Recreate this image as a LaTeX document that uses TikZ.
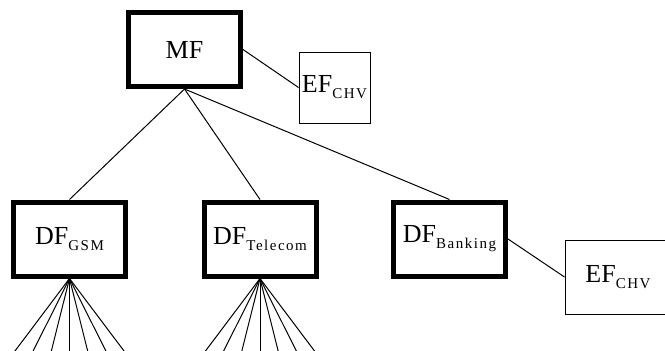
\documentclass[tikz,border=0pt]{standalone}
\usepackage{fontspec}
\setmainfont{Liberation Serif}
\usetikzlibrary{calc}
\newcommand{\fsub}[1] % subscript of a file name
{%
	\raisebox{-6pt}{\fontsize{15}{15}\selectfont\addfontfeature{LetterSpace=10}#1}%
}
\tikzset{
	dfbox/.style={draw, line width=5pt, minimum width=112pt, minimum height=74pt, inner sep=0pt, font=\fontsize{26}{26}\selectfont},
	efbox/.style={draw, line width=1pt, minimum height=71pt, inner sep=0pt, font=\fontsize{26}{26}\selectfont},
	link/.style={line width=1pt}
}

\begin{document}
\begin{tikzpicture}[x=1pt, y=-1pt]
	\useasboundingbox (0,0) rectangle (665,351);
	% master file and its elementary file
	\node[dfbox] (mf) at (184.5,49.5) {MF};
	\node[efbox, minimum width=71pt] (efmf) at (334.5,87.5) {EF\fsub{CHV}};
	% dedicated files
	\node[dfbox] (gsm) at (69.5,239) {DF\fsub{GSM}};
	\node[dfbox] (telecom) at (260,239) {DF\fsub{Telecom}};
	\node[dfbox] (banking) at (449.5,239) {DF\fsub{Banking}};
	\node[efbox, minimum width=106pt, minimum height=74pt] (efbank) at (618,277) {EF\fsub{CHV}};

	\draw[link] (mf.east) -- (efmf.west);
	\draw[link] (mf.south) -- (gsm.north);
	\draw[link] (mf.south) -- (telecom.north);
	\draw[link] (mf.south) -- (banking.north);
	\draw[link] (banking.east) -- (efbank.west);

	% elementary files below the dedicated files
	\foreach \k in {-3,...,3}
	{
		\coordinate (g\k) at ($(gsm.south)+(18.3*\k,73)$);
		\draw[link] (gsm.south) -- (g\k);
		\coordinate (t\k) at ($(telecom.south)+(18.3*\k,73)$);
		\draw[link] (telecom.south) -- (t\k);
	}
\end{tikzpicture}
\end{document}
